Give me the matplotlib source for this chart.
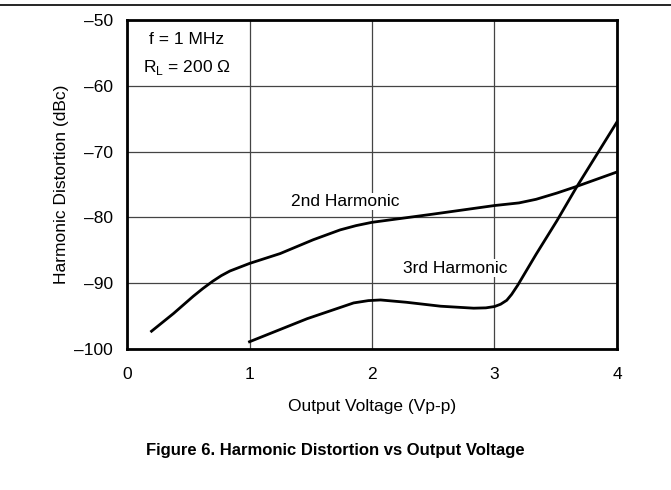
from matplotlib import pyplot as plt
import numpy as np

plt.rcParams['font.family'] = ['Liberation Sans', 'DejaVu Sans']

# 2nd harmonic
v2 = [0.2, 0.3, 0.38, 0.46, 0.54, 0.62, 0.7, 0.77, 0.84, 1.0, 1.25, 1.52, 1.74, 1.87, 2.0, 2.5, 3.0, 3.2, 3.34, 3.51, 3.67, 3.85, 4.0]
d2 = [-97.3, -95.8, -94.6, -93.3, -92.0, -90.8, -89.7, -88.85, -88.15, -87.0, -85.5, -83.4, -81.9, -81.25, -80.75, -79.5, -78.2, -77.8, -77.25, -76.3, -75.3, -74.1, -73.1]

# 3rd harmonic
v3 = [1.0, 1.47, 1.85, 1.97, 2.07, 2.28, 2.56, 2.83, 2.93, 3.0, 3.05, 3.1, 3.14, 3.19, 3.34, 3.51, 3.67, 3.89, 4.0]
d3 = [-98.9, -95.4, -93.0, -92.65, -92.55, -92.9, -93.5, -93.8, -93.75, -93.55, -93.2, -92.6, -91.7, -90.3, -85.6, -80.5, -75.4, -68.8, -65.5]

xticks = [0, 1, 2, 3, 4]
yticks = [-100, -90, -80, -70, -60, -50]

fig = plt.figure(figsize=(6.71, 4.90), dpi=100)
ax = fig.add_axes([0.1893, 0.2878, 0.7302, 0.6714])

# rule at top of the page
fig.add_artist(plt.Line2D([0, 1], [0.99, 0.99], color='black', lw=1.2, transform=fig.transFigure))

fs = 12.5
ax.set_xlim(0, 4)
ax.set_ylim(-100, -50)
ax.set_xticks(xticks)
ax.set_yticks(yticks)
ax.set_yticklabels(['\u2013%d' % abs(t) for t in yticks])
ax.tick_params(length=0, labelsize=fs)
ax.tick_params(axis='x', pad=13)
ax.tick_params(axis='y', pad=10)
ax.grid(True, color='#444444', lw=0.9)
ax.set_axisbelow(True)
for s in ax.spines.values():
	s.set_linewidth(2)

ax.plot(v2, d2, color='black', lw=2, zorder=3, solid_joinstyle='round')
ax.plot(v3, d3, color='black', lw=2, zorder=3, solid_joinstyle='round')

ax.text(1.78, -77.6, '2nd Harmonic', fontsize=fs, ha='center', va='center',
	bbox=dict(facecolor='white', edgecolor='none', pad=1), zorder=4)
ax.text(2.68, -87.7, '3rd Harmonic', fontsize=fs, ha='center', va='center',
	bbox=dict(facecolor='white', edgecolor='none', pad=1), zorder=4)
ax.text(0.49, -52.9, 'f = 1 MHz', fontsize=fs, ha='center', va='center')
ax.text(0.49, -57.2, r'R$_\mathregular{L}$ = 200 Ω', fontsize=fs, ha='center', va='center')

ax.set_xlabel('Output Voltage (Vp-p)', fontsize=fs, labelpad=12)
ax.set_ylabel('Harmonic Distortion (dBc)', fontsize=fs, labelpad=4)

fig.text(0.5, 0.08, 'Figure 6. Harmonic Distortion vs Output Voltage', fontsize=12,
	fontweight='bold', ha='center', va='center')

fig.savefig('out.png', dpi=100)
